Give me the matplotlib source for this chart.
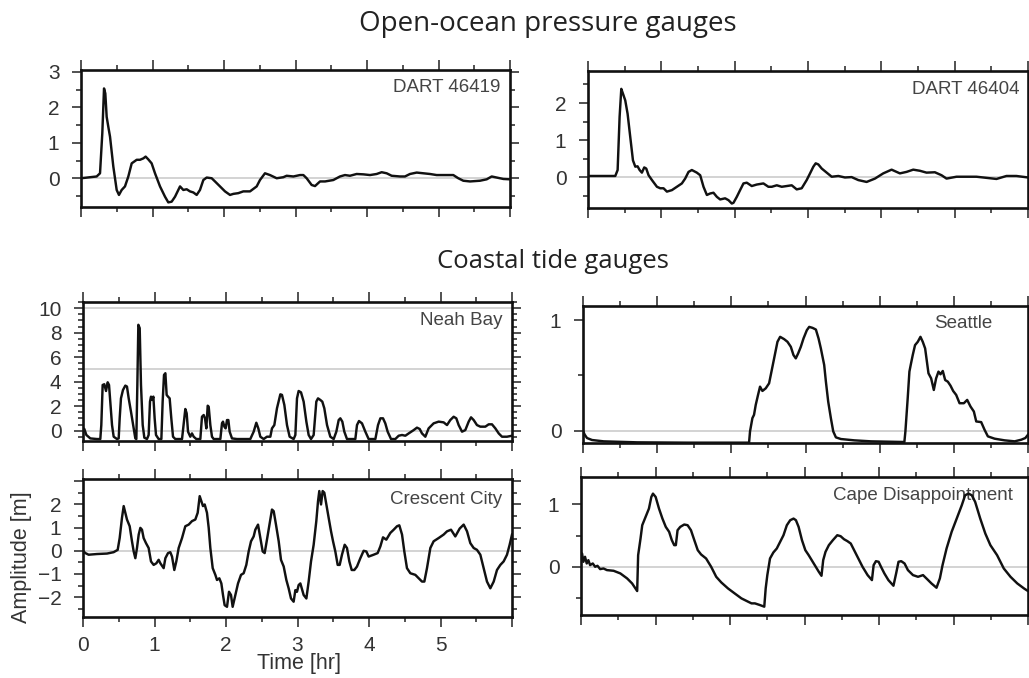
import matplotlib
matplotlib.use("Agg")
import matplotlib.pyplot as plt
from matplotlib.ticker import MultipleLocator, FuncFormatter

# ---------------- data (time in hours, amplitude in metres) ----------------
dart46419_t = [0, 0.219, 0.266, 0.298, 0.322, 0.340, 0.359, 0.382, 0.406, 0.452, 0.499, 0.531, 0.569, 0.615,
               0.662, 0.709, 0.779, 0.825, 0.872, 0.904, 0.942, 0.988, 1.035, 1.105, 1.175, 1.221, 1.268, 1.315,
               1.385, 1.431, 1.478, 1.524, 1.571, 1.618, 1.664, 1.711, 1.758, 1.828, 1.874, 1.944, 2.014, 2.084,
               2.131, 2.200, 2.270, 2.364, 2.457, 2.503, 2.573, 2.643, 2.737, 2.830, 2.876, 2.970, 3.063, 3.110,
               3.156, 3.226, 3.273, 3.343, 3.413, 3.529, 3.622, 3.692, 3.762, 3.855, 3.949, 4.042, 4.135, 4.205,
               4.275, 4.345, 4.462, 4.531, 4.601, 4.695, 4.788, 4.881, 4.974, 5.114, 5.207, 5.277, 5.347, 5.441,
               5.580, 5.674, 5.744, 5.814, 5.907, 6.0]
dart46419_a = [0, 0.05, 0.14, 1.27, 2.53, 2.39, 1.73, 1.45, 1.17, 0.33, -0.33, -0.47, -0.33, -0.23,
               0.05, 0.42, 0.52, 0.52, 0.56, 0.61, 0.53, 0.42, 0.14, -0.23, -0.52, -0.68, -0.66, -0.52,
               -0.23, -0.33, -0.31, -0.37, -0.40, -0.47, -0.33, -0.05, 0.02, 0, -0.09, -0.23, -0.37, -0.47,
               -0.44, -0.42, -0.37, -0.37, -0.23, -0.05, 0.14, 0.09, 0, 0.03, 0.07, 0.05, 0.09, 0.09,
               0, -0.19, -0.22, -0.09, -0.09, -0.05, 0.05, 0.09, 0.07, 0.12, 0.11, 0.09, 0.12, 0.17,
               0.14, 0.07, 0.05, 0.05, 0.12, 0.16, 0.14, 0.12, 0.09, 0.09, 0.09, 0, -0.07, -0.09,
               -0.07, -0.03, 0.05, 0.02, -0.02, -0.03]

dart46404_t = [0, 0.372, 0.404, 0.431, 0.454, 0.477, 0.508, 0.540, 0.576, 0.613, 0.645, 0.676, 0.704, 0.735,
               0.767, 0.794, 0.826, 0.872, 0.940, 0.985, 1.030, 1.076, 1.144, 1.212, 1.280, 1.325, 1.371, 1.416,
               1.484, 1.530, 1.575, 1.621, 1.666, 1.711, 1.757, 1.802, 1.870, 1.916, 1.961, 1.984, 2.029, 2.074,
               2.120, 2.165, 2.233, 2.301, 2.392, 2.460, 2.506, 2.574, 2.642, 2.710, 2.778, 2.846, 2.914, 2.982,
               3.028, 3.073, 3.105, 3.141, 3.187, 3.255, 3.323, 3.414, 3.504, 3.595, 3.686, 3.799, 3.913, 4.026,
               4.140, 4.253, 4.344, 4.435, 4.526, 4.616, 4.730, 4.821, 4.889, 5.025, 5.161, 5.297, 5.434, 5.570,
               5.706, 5.842, 6.0]
dart46404_a = [0.04, 0.04, 0.20, 1.63, 2.38, 2.25, 2.07, 1.71, 1.09, 0.46, 0.29, 0.30, 0.20, 0.13,
               0.27, 0.24, 0.06, -0.07, -0.25, -0.29, -0.29, -0.38, -0.34, -0.25, -0.16, -0.03, 0.15, 0.20,
               0.13, 0.06, -0.25, -0.47, -0.43, -0.41, -0.52, -0.59, -0.56, -0.61, -0.70, -0.68, -0.52, -0.34,
               -0.16, -0.14, -0.23, -0.19, -0.16, -0.25, -0.25, -0.21, -0.25, -0.23, -0.21, -0.32, -0.29, -0.07,
               0.11, 0.29, 0.38, 0.35, 0.24, 0.13, 0.02, 0.04, 0, 0.01, -0.07, -0.12, -0.03, 0.11,
               0.21, 0.11, 0.15, 0.21, 0.18, 0.13, 0.14, 0.06, -0.03, 0.02, 0.02, 0.02, -0.01, -0.04,
               0.04, 0.04, 0]

neah_t = [0, 0.019, 0.047, 0.103, 0.196, 0.242, 0.256, 0.275, 0.298, 0.322, 0.345, 0.364, 0.382, 0.406,
          0.429, 0.476, 0.499, 0.513, 0.531, 0.559, 0.592, 0.615, 0.639, 0.671, 0.709, 0.732, 0.746, 0.760,
          0.774, 0.793, 0.811, 0.835, 0.858, 0.895, 0.918, 0.937, 0.951, 0.970, 0.984, 1.002, 1.021, 1.058,
          1.096, 1.114, 1.133, 1.152, 1.170, 1.189, 1.212, 1.235, 1.259, 1.291, 1.385, 1.417, 1.431, 1.450,
          1.469, 1.501, 1.524, 1.548, 1.585, 1.641, 1.664, 1.688, 1.706, 1.725, 1.744, 1.758, 1.781, 1.804,
          1.828, 1.921, 1.944, 1.958, 1.977, 1.995, 2.014, 2.033, 2.051, 2.084, 2.154, 2.340, 2.387, 2.424,
          2.452, 2.480, 2.527, 2.573, 2.620, 2.643, 2.676, 2.713, 2.760, 2.783, 2.816, 2.853, 2.890, 2.946,
          2.970, 2.993, 3.016, 3.049, 3.086, 3.124, 3.156, 3.189, 3.226, 3.263, 3.287, 3.319, 3.347, 3.375,
          3.413, 3.459, 3.506, 3.543, 3.576, 3.599, 3.627, 3.655, 3.692, 3.809, 3.832, 3.860, 3.902, 3.949,
          3.995, 4.089, 4.126, 4.159, 4.196, 4.228, 4.261, 4.308, 4.368, 4.415, 4.462, 4.508, 4.555, 4.625,
          4.671, 4.709, 4.741, 4.788, 4.834, 4.904, 4.974, 5.044, 5.091, 5.137, 5.184, 5.221, 5.254, 5.301,
          5.347, 5.394, 5.427, 5.464, 5.510, 5.557, 5.627, 5.674, 5.720, 5.767, 5.814, 5.860, 5.930, 6.0]
neah_a = [0.19, 0.14, -0.35, -0.63, -0.68, -0.68, 0.46, 3.73, 3.79, 3.24, 3.95, 3.73, 2.37, 0.46,
          -0.49, -0.68, -0.63, 1.01, 2.64, 3.32, 3.68, 3.60, 2.64, 1.55, 0.19, -0.63, -0.68, 3.73,
          8.64, 8.37, 3.73, 0.46, -0.57, -0.68, -0.35, 2.37, 2.78, 2.51, 2.78, 1.01, -0.35, -0.68,
          -0.68, 2.37, 4.55, 4.69, 2.92, 2.78, 2.64, 1.01, -0.49, -0.68, -0.68, 1.01, 1.77, 1.42,
          -0.08, -0.49, -0.22, -0.49, -0.68, -0.68, 1.14, 1.28, 1.01, 0.19, 2.04, 1.96, 0.46, -0.49,
          -0.68, -0.68, 0.60, 0.74, 0.33, 0.19, 0.87, 0.87, -0.08, -0.63, -0.68, -0.68, -0.08, 0.65,
          0.19, -0.49, -0.68, -0.49, -0.49, 0.19, 0.46, 1.83, 2.97, 2.92, 2.10, 0.46, -0.49, -0.68,
          -0.35, 2.64, 3.24, 3.13, 2.37, 0.74, -0.35, -0.68, -0.35, 2.37, 2.64, 2.51, 2.37, 1.83,
          0.46, -0.49, -0.68, -0.08, 0.87, 1.01, 0.74, -0.08, -0.68, -0.68, 0.46, 0.79, 0.60, -0.08,
          -0.68, -0.68, 0.46, 1.01, 1.01, 0.60, -0.08, -0.68, -0.68, -0.41, -0.35, -0.41, -0.22, 0.05,
          0.25, 0.14, -0.22, -0.49, 0.19, 0.60, 0.74, 0.68, 0.46, 0.87, 1.14, 1.01, 0.46, -0.08,
          0.05, 0.74, 1.09, 0.87, 0.46, 0.33, 0.33, 0.52, 0.52, 0.19, -0.22, -0.49, -0.49, -0.41]

seattle_t = [0, 0.023, 0.054, 0.122, 0.279, 0.730, 1.405, 2.239, 2.252, 2.284, 2.306, 2.329, 2.360, 2.387,
             2.419, 2.464, 2.509, 2.541, 2.577, 2.622, 2.658, 2.712, 2.757, 2.802, 2.838, 2.869, 2.901, 2.937,
             2.973, 3.018, 3.050, 3.095, 3.140, 3.176, 3.207, 3.252, 3.275, 3.306, 3.342, 3.374, 3.410, 3.477,
             3.658, 3.883, 4.108, 4.333, 4.347, 4.378, 4.401, 4.423, 4.446, 4.477, 4.514, 4.550, 4.581, 4.613,
             4.640, 4.658, 4.694, 4.730, 4.761, 4.793, 4.820, 4.851, 4.883, 4.919, 4.955, 4.991, 5.032, 5.077,
             5.135, 5.180, 5.225, 5.270, 5.302, 5.369, 5.414, 5.459, 5.550, 5.685, 5.820, 5.910, 5.964, 6.0]
seattle_a = [0, -0.036, -0.066, -0.084, -0.096, -0.105, -0.108, -0.108, -0.006, 0.114, 0.144, 0.234, 0.324, 0.399,
             0.360, 0.384, 0.429, 0.535, 0.655, 0.805, 0.850, 0.829, 0.805, 0.760, 0.685, 0.655, 0.700, 0.760,
             0.835, 0.910, 0.940, 0.931, 0.916, 0.835, 0.745, 0.595, 0.444, 0.264, 0.114, -0.006, -0.060, -0.075,
             -0.087, -0.096, -0.099, -0.102, -0.006, 0.294, 0.535, 0.610, 0.685, 0.775, 0.805, 0.850, 0.805, 0.745,
             0.610, 0.520, 0.474, 0.369, 0.474, 0.535, 0.511, 0.541, 0.459, 0.444, 0.408, 0.360, 0.324, 0.249,
             0.249, 0.279, 0.219, 0.174, 0.084, 0.078, 0.009, -0.051, -0.072, -0.087, -0.096, -0.081, -0.066, -0.036]

crescent_t = [0, 0.033, 0.079, 0.196, 0.336, 0.429, 0.485, 0.513, 0.545, 0.569, 0.592, 0.615, 0.653, 0.685,
              0.709, 0.732, 0.755, 0.779, 0.802, 0.825, 0.848, 0.881, 0.918, 0.951, 0.988, 1.026, 1.058, 1.082,
              1.128, 1.152, 1.189, 1.221, 1.245, 1.277, 1.305, 1.338, 1.385, 1.431, 1.478, 1.524, 1.571, 1.604,
              1.632, 1.655, 1.678, 1.702, 1.734, 1.758, 1.781, 1.814, 1.851, 1.874, 1.907, 1.935, 1.958, 1.981,
              2.014, 2.042, 2.070, 2.093, 2.131, 2.168, 2.210, 2.247, 2.284, 2.317, 2.350, 2.387, 2.410, 2.448,
              2.480, 2.513, 2.541, 2.573, 2.611, 2.643, 2.667, 2.699, 2.737, 2.769, 2.807, 2.844, 2.876, 2.909,
              2.946, 2.970, 2.993, 3.016, 3.040, 3.086, 3.124, 3.156, 3.189, 3.226, 3.263, 3.287, 3.305, 3.329,
              3.352, 3.375, 3.403, 3.436, 3.469, 3.497, 3.529, 3.562, 3.590, 3.622, 3.660, 3.692, 3.725, 3.758,
              3.795, 3.832, 3.879, 3.925, 3.963, 3.995, 4.065, 4.121, 4.159, 4.196, 4.242, 4.298, 4.345, 4.392,
              4.424, 4.462, 4.494, 4.531, 4.578, 4.648, 4.695, 4.741, 4.774, 4.811, 4.858, 4.904, 4.974, 5.044,
              5.091, 5.147, 5.207, 5.268, 5.324, 5.371, 5.417, 5.464, 5.510, 5.557, 5.604, 5.650, 5.697, 5.744,
              5.790, 5.837, 5.883, 5.930, 5.967, 6.0]
crescent_a = [0, -0.10, -0.17, -0.14, -0.12, -0.06, 0.04, 0.55, 1.42, 1.93, 1.64, 1.35, 1.06, 0.41,
              -0.03, -0.32, 0.12, 0.70, 0.99, 0.91, 0.55, 0.33, 0.12, -0.46, -0.61, -0.54, -0.39, -0.54,
              -0.75, -0.32, -0.10, -0.06, -0.25, -0.83, -0.46, 0.12, 0.55, 1.06, 1.13, 1.28, 1.35, 1.64,
              2.36, 2.14, 1.93, 2.00, 1.64, 0.99, 0.12, -0.75, -1.04, -1.26, -1.19, -1.41, -1.91, -2.35,
              -2.42, -1.77, -1.91, -2.42, -1.91, -1.41, -1.04, -0.97, -0.61, -0.03, 0.41, 0.62, 0.91, 1.13,
              0.55, -0.03, -0.10, 0.48, 1.20, 1.78, 1.71, 1.13, 0.41, -0.39, -0.68, -1.26, -1.62, -2.06,
              -2.20, -1.70, -1.77, -1.48, -1.41, -1.91, -2.06, -1.33, -0.46, 0.26, 1.28, 2.14, 2.58, 2.00,
              2.58, 2.51, 2.00, 1.42, 0.84, 0.41, -0.03, -0.61, -0.61, -0.17, 0.26, 0.12, -0.46, -0.83,
              -0.83, -0.68, -0.32, 0, -0.03, -0.25, -0.17, -0.10, 0.19, 0.58, 0.48, 0.77, 0.91, 1.06,
              1.10, 0.70, -0.03, -0.75, -0.97, -1.04, -1.19, -1.33, -1.33, -0.75, 0.12, 0.41, 0.55, 0.70,
              0.84, 0.91, 0.62, 0.96, 1.13, 0.84, 0.33, 0.12, 0.04, -0.17, -0.75, -1.33, -1.62, -1.33,
              -0.83, -0.61, -0.46, -0.17, 0.26, 0.70]

cape_t = [0, 0.014, 0.032, 0.054, 0.077, 0.099, 0.122, 0.158, 0.190, 0.221, 0.257, 0.302, 0.348, 0.438,
          0.528, 0.619, 0.686, 0.754, 0.767, 0.799, 0.822, 0.867, 0.912, 0.944, 0.966, 1.002, 1.047, 1.093,
          1.138, 1.183, 1.219, 1.251, 1.273, 1.296, 1.332, 1.386, 1.431, 1.476, 1.521, 1.567, 1.612, 1.679,
          1.747, 1.815, 1.883, 1.973, 2.063, 2.153, 2.244, 2.289, 2.334, 2.402, 2.460, 2.479, 2.501, 2.537,
          2.582, 2.628, 2.673, 2.718, 2.763, 2.808, 2.853, 2.885, 2.921, 2.966, 3.011, 3.056, 3.124, 3.192,
          3.228, 3.251, 3.282, 3.327, 3.381, 3.440, 3.485, 3.530, 3.576, 3.621, 3.666, 3.711, 3.779, 3.847,
          3.905, 3.928, 3.959, 3.995, 4.027, 4.072, 4.126, 4.194, 4.230, 4.262, 4.298, 4.343, 4.388, 4.456,
          4.524, 4.591, 4.646, 4.704, 4.772, 4.817, 4.853, 4.907, 4.975, 5.043, 5.111, 5.156, 5.201, 5.246,
          5.291, 5.359, 5.427, 5.495, 5.585, 5.675, 5.765, 5.856, 5.946, 6.0]
cape_a = [0.186, 0.213, 0.080, 0.160, 0.053, 0.106, 0.027, 0.053, 0, 0.016, -0.037, -0.027, -0.053, -0.064,
          -0.106, -0.186, -0.266, -0.388, 0.186, 0.452, 0.665, 0.798, 0.931, 1.117, 1.170, 1.117, 0.931, 0.771,
          0.638, 0.559, 0.426, 0.346, 0.346, 0.585, 0.638, 0.676, 0.665, 0.585, 0.426, 0.266, 0.197, 0.133,
          0, -0.160, -0.250, -0.346, -0.426, -0.505, -0.559, -0.585, -0.585, -0.612, -0.638, -0.346, -0.133, 0.133,
          0.229, 0.293, 0.399, 0.505, 0.665, 0.745, 0.771, 0.745, 0.638, 0.426, 0.266, 0.186, 0.053, -0.080,
          -0.144, 0.106, 0.239, 0.346, 0.426, 0.505, 0.489, 0.441, 0.410, 0.372, 0.266, 0.160, 0, -0.133,
          -0.213, 0.027, 0.090, 0.080, 0, -0.106, -0.213, -0.303, -0.106, 0.080, 0.090, 0.053, -0.053, -0.133,
          -0.160, -0.133, -0.197, -0.266, -0.335, -0.186, 0.027, 0.293, 0.559, 0.771, 0.984, 1.144, 1.170, 1.144,
          1.037, 0.771, 0.532, 0.346, 0.186, -0.027, -0.160, -0.266, -0.346, -0.388]

# ---------------- layout ----------------
W, H = 1029, 678
fig = plt.figure(figsize=(W / 100, H / 100), dpi=100)
AX_FONT = ["Liberation Sans", "DejaVu Sans"]
TITLE_FONT = ["Open Sans", "DejaVu Sans"]
TICK_COLOR = "#333333"
GRID_COLOR = "#c8c8c8"


def make_axes(l, t, r, b):
    return fig.add_axes([l / W, 1 - b / H, (r - l) / W, (b - t) / H])


def y_formatter(hidden):
    def f(v, p):
        if any(abs(v - h) < 1e-6 for h in hidden):
            return ""
        return f"{v:.0f}".replace("-", "\u2212")
    return FuncFormatter(f)


panels = [
    # (rect px, t, a, ylim, ymajor, yminor, ref lines, label, label offset px, xlabels, hidden y labels)
    ((81, 70, 510, 207), dart46419_t, dart46419_a, (-0.81, 3.05), 1, 0.5, [0], "DART 46419", (10, 18), False, []),
    ((588, 71, 1028, 208), dart46404_t, dart46404_a, (-0.82, 2.86), 1, 0.5, [0], "DART 46404", (8, 19), False, []),
    ((83, 302, 512, 441), neah_t, neah_a, (-0.84, 10.5), 2, 0.5, [0, 5, 10], "Neah Bay", (10, 19), False, []),
    ((583, 306, 1028, 443), seattle_t, seattle_a, (-0.111, 1.129), 1, 0.5, [0], "Seattle", (36, 17), False, []),
    ((83, 479, 512, 617), crescent_t, crescent_a, (-2.86, 3.1), 1, 0.5, [0], "Crescent City", (10, 20), True, [3]),
    ((581, 477, 1028, 615), cape_t, cape_a, (-0.771, 1.436), 1, 0.5, [0], "Cape Disappointment", (15, 18), False, []),
]

for rect, t, a, ylim, ymaj, ymin, refs, label, (dx, dy), xlab, hidden in panels:
    ax = make_axes(*rect)
    ax.set_xlim(0, 6)
    ax.set_ylim(*ylim)
    for v in refs:
        ax.axhline(v, color=GRID_COLOR, lw=1.1, zorder=1)
    ax.annotate(label, xy=(1, 1), xycoords="axes fraction",
                xytext=(-dx * 0.72, -dy * 0.72), textcoords="offset points",
                ha="right", va="center", fontsize=13.5, color="#444444",
                family=AX_FONT, zorder=2)
    ax.plot(t, a, color="#111111", lw=1.75, zorder=3, solid_joinstyle="round")
    ax.xaxis.set_major_locator(MultipleLocator(1))
    ax.xaxis.set_minor_locator(MultipleLocator(0.5))
    ax.yaxis.set_major_locator(MultipleLocator(ymaj))
    ax.yaxis.set_minor_locator(MultipleLocator(ymin))
    ax.tick_params(which="both", direction="out", top=True, right=True,
                   width=1.1, color="#222222", labelcolor=TICK_COLOR)
    ax.tick_params(axis="x", which="major", length=7.5, pad=6, labelsize=15)
    ax.tick_params(axis="x", which="minor", length=3.8)
    ax.tick_params(axis="y", which="major", length=6.5, pad=9, labelsize=15)
    ax.tick_params(axis="y", which="minor", length=3.6)
    if xlab:
        ax.xaxis.set_major_formatter(FuncFormatter(lambda v, p: "" if v > 5.5 else f"{v:.0f}"))
    else:
        ax.tick_params(axis="x", labelbottom=False)
    ax.yaxis.set_major_formatter(y_formatter(hidden))
    for lab in ax.get_xticklabels() + ax.get_yticklabels():
        lab.set_family(AX_FONT)
    for s in ax.spines.values():
        s.set_linewidth(1.9)
        s.set_color("#111111")
        s.set_zorder(4)

fig.text(299 / W, 1 - 664 / H, "Time [hr]", ha="center", va="center",
         fontsize=15.5, color=TICK_COLOR, family=AX_FONT)
fig.text(22 / W, 1 - 557 / H, "Amplitude [m]", rotation=90, ha="center", va="center",
         fontsize=15.5, color=TICK_COLOR, family=AX_FONT)
fig.text(548 / W, 1 - 24 / H, "Open-ocean pressure gauges", ha="center", va="center",
         fontsize=20, color="#222222", family=TITLE_FONT)
fig.text(553 / W, 1 - 262 / H, "Coastal tide gauges", ha="center", va="center",
         fontsize=18.5, color="#222222", family=TITLE_FONT)

fig.savefig("out.png", dpi=100)
